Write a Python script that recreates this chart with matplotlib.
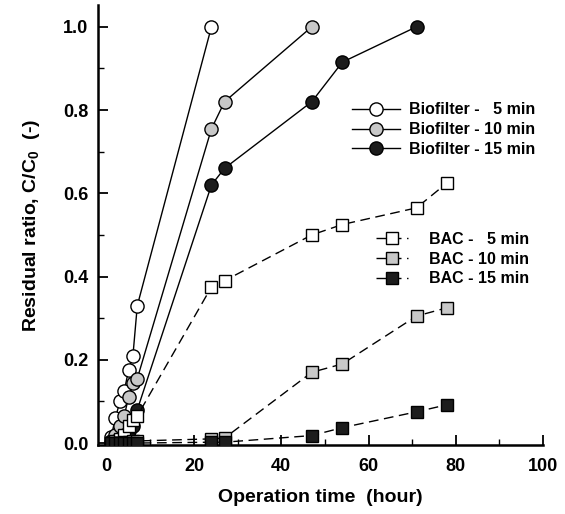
import numpy as np
import matplotlib
matplotlib.use("Agg")
import matplotlib.pyplot as plt
from matplotlib.ticker import MultipleLocator

plt.rcParams['font.family'] = ['Liberation Sans', 'DejaVu Sans']
plt.rcParams['font.weight'] = 'bold'
plt.rcParams['mathtext.fontset'] = 'custom'
plt.rcParams['mathtext.rm'] = 'Liberation Sans:bold'
plt.rcParams['mathtext.bf'] = 'Liberation Sans:bold'

# Zeitpunkte (Stunden)
t_early = [1, 2, 3, 4, 5, 6, 7]
t_late = [24, 27, 47, 54, 71, 78]

# Biofilter
bio5_t = t_early + [24]
bio5 = [0.015, 0.06, 0.10, 0.125, 0.175, 0.21, 0.33, 1.0]
bio10_t = t_early + [24, 27, 47]
bio10 = [0.005, 0.02, 0.04, 0.065, 0.11, 0.145, 0.155, 0.755, 0.82, 1.0]
bio15_t = t_early + [24, 27, 47, 54, 71]
bio15 = [0.0, 0.005, 0.01, 0.02, 0.03, 0.04, 0.08, 0.62, 0.66, 0.82, 0.915, 1.0]

# BAC
bac_t = t_early + t_late
bac5 = [0.0, 0.005, 0.01, 0.02, 0.04, 0.055, 0.065, 0.375, 0.39, 0.50, 0.525, 0.565, 0.625]
bac10 = [0.0, 0.0, 0.0, 0.002, 0.003, 0.004, 0.005, 0.01, 0.012, 0.17, 0.19, 0.305, 0.325]
bac15 = [0.0, 0.0, 0.0, 0.0, 0.0, 0.0, 0.0, 0.002, 0.002, 0.018, 0.037, 0.075, 0.092]

fills = ['white', '#c8c8c8', '#1c1c1c']

fig = plt.figure(figsize=(5.65, 5.14), dpi=100)
ax = fig.add_axes([0.1735, 0.134, 0.7876, 0.856])

bio_lines = []
for t, y, fc, lab in zip([bio5_t, bio10_t, bio15_t], [bio5, bio10, bio15], fills,
                         ['Biofilter -   5 min', 'Biofilter - 10 min', 'Biofilter - 15 min']):
    l, = ax.plot(t, y, '-', color='black', lw=1.0, marker='o', ms=9.5,
                 mfc=fc, mec='black', mew=1.0, label=lab, zorder=3)
    bio_lines.append(l)

bac_lines = []
for y, fc, lab in zip([bac5, bac10, bac15], fills,
                      ['BAC -   5 min', 'BAC - 10 min', 'BAC - 15 min']):
    l, = ax.plot(bac_t, y, color='black', lw=1.0, dashes=(7, 4), marker='s', ms=8.5,
                 mfc=fc, mec='black', mew=1.0, label=lab, zorder=3)
    bac_lines.append(l)

ax.set_xlim(-2, 100)
ax.set_ylim(-0.005, 1.052)
ax.xaxis.set_major_locator(MultipleLocator(20))
ax.xaxis.set_minor_locator(MultipleLocator(10))
ax.yaxis.set_major_locator(MultipleLocator(0.2))
ax.yaxis.set_minor_locator(MultipleLocator(0.1))
ax.yaxis.set_major_formatter(plt.FormatStrFormatter('%.1f'))

for s in ['top', 'right']:
    ax.spines[s].set_visible(False)
for s in ['left', 'bottom']:
    ax.spines[s].set_linewidth(1.8)

ax.tick_params(which='major', direction='in', length=7, width=1.3, labelsize=13, pad=7)
ax.tick_params(which='minor', direction='in', length=4, width=1.0)
ax.tick_params(axis='x', which='major', pad=9)

ax.set_xlabel('Operation time  (hour)', fontsize=14, fontweight='bold', labelpad=10)
ax.set_ylabel(r'Residual ratio, C/C$_\mathbf{0}$  (-)', fontsize=14, fontweight='bold', labelpad=15)

leg1 = ax.legend(handles=bio_lines, loc='upper left', bbox_to_anchor=(0.552, 0.797),
                 frameon=False, fontsize=11.5, handlelength=3.0, handletextpad=0.6,
                 labelspacing=0.3, borderpad=0)
ax.add_artist(leg1)
ax.legend(handles=bac_lines, loc='upper left', bbox_to_anchor=(0.607, 0.503),
          frameon=False, fontsize=11.5, handlelength=2.0, handletextpad=1.3,
          labelspacing=0.3, borderpad=0)

fig.savefig('out.png', dpi=100)
